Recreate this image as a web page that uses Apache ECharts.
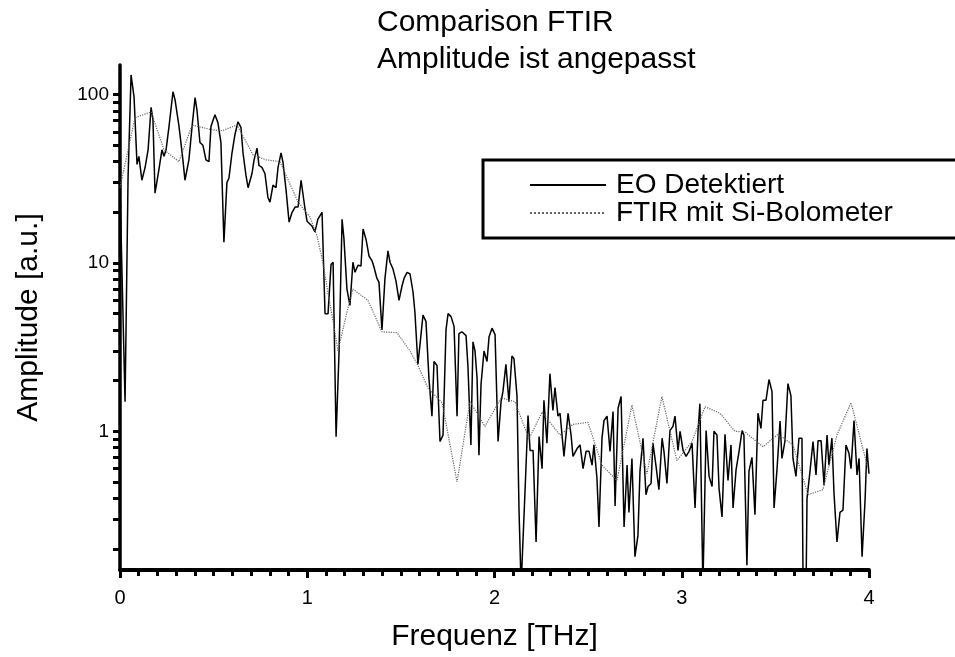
<!DOCTYPE html>
<html>
<head>
<meta charset="utf-8">
<script src="https://cdn.jsdelivr.net/npm/echarts@6/dist/echarts.min.js"></script>
<style>html,body{margin:0;padding:0;background:#fff;}#c{width:955px;height:657px;}</style>
</head>
<body>
<div id="c"></div>
<script>
const eoFreq = [
0,0.027,0.043,0.059,0.075,0.091,0.101,0.117,0.134,0.150,
0.166,0.176,0.187,0.208,0.224,0.235,0.246,0.262,0.283,0.294,
0.315,0.336,0.347,0.368,0.385,0.401,0.411,0.427,0.443,0.459,
0.475,0.486,0.507,0.523,0.539,0.555,0.571,0.582,0.598,0.614,
0.630,0.646,0.657,0.673,0.684,0.705,0.716,0.732,0.742,0.758,
0.774,0.790,0.801,0.817,0.833,0.844,0.860,0.870,0.887,0.903,
0.919,0.935,0.951,0.967,0.977,0.988,0.999,1.009,1.025,1.041,
1.057,1.079,1.095,1.111,1.127,1.138,1.154,1.170,1.186,1.196,
1.212,1.228,1.244,1.255,1.271,1.287,1.298,1.314,1.330,1.346,
1.356,1.372,1.383,1.399,1.415,1.431,1.442,1.458,1.474,1.490,
1.506,1.517,1.533,1.549,1.565,1.575,1.591,1.607,1.618,1.634,
1.650,1.666,1.677,1.693,1.709,1.725,1.741,1.752,1.768,1.784,
1.800,1.810,1.826,1.848,1.858,1.874,1.885,1.896,1.907,1.917,
1.928,1.944,1.960,1.971,1.987,2.003,2.019,2.035,2.045,2.061,
2.077,2.093,2.104,2.120,2.131,2.142,2.152,2.163,2.179,2.190,
2.206,2.222,2.238,2.254,2.264,2.280,2.296,2.312,2.323,2.339,
2.350,2.371,2.393,2.409,2.419,2.441,2.457,2.473,2.489,2.505,
2.521,2.531,2.547,2.558,2.574,2.585,2.601,2.617,2.633,2.644,
2.660,2.676,2.692,2.708,2.718,2.734,2.750,2.766,2.777,2.793,
2.809,2.820,2.836,2.846,2.862,2.878,2.895,2.905,2.921,2.937,
2.953,2.964,2.980,2.991,3.007,3.023,3.039,3.055,3.071,3.087,
3.097,3.113,3.130,3.146,3.162,3.172,3.188,3.199,3.215,3.231,
3.247,3.263,3.274,3.290,3.306,3.322,3.332,3.348,3.359,3.375,
3.391,3.407,3.423,3.434,3.450,3.466,3.482,3.493,3.509,3.525,
3.535,3.551,3.567,3.583,3.594,3.610,3.626,3.642,3.648,3.664,
3.669,3.685,3.701,3.717,3.728,3.744,3.760,3.776,3.786,3.802,
3.813,3.829,3.845,3.861,3.877,3.893,3.904,3.920,3.936,3.947,
3.963,3.979,3.989,4.000
];
const eoAmp = [
28,1.5,32,131,97,38.5,43,31,37,47,
84,71,26,36,47,43,47,65,104,93,
65,41,31,41,65,96,81,52,50,41,
40,65,76,68,52,13.3,30,32,45,58,
69,64,45,33,28,34,41,48,38,37,
34,24.5,23,29,28,37,45,40,27,17.5,
20,21.5,21.5,31,31.5,21,17.7,17.5,16.6,15.3,
18.2,20,5.0,5.0,9.8,10.1,0.93,3.0,18.2,13.9,
7.0,5.6,10.1,8.8,9.7,9.6,15.9,13.8,11,10.3,
9.5,8.1,7.7,4.0,8.1,11.8,10.1,9.2,7.8,6.0,
7.3,8.1,8.8,8.6,6.7,5.1,2.5,3.7,4.9,4.5,
2.06,1.23,2.6,2.46,0.87,0.95,4.0,5.0,4.8,4.2,
1.23,3.8,3.9,3.7,2.46,0.83,3.4,3.0,2.06,0.72,
1.9,3.0,2.6,3.65,4.1,3.75,0.87,1.5,1.72,2.5,
1.5,2.8,2.7,1.63,0.34,0.12,0.12,0.44,1.24,0.77,
0.77,0.22,0.93,0.6,1.53,0.85,2.2,1.33,1.82,1.23,
1.28,0.71,1.28,0.95,0.71,0.79,0.83,0.6,0.76,0.76,
0.63,0.83,0.53,0.27,0.91,1.16,1.23,0.76,1.31,0.36,
1.37,1.61,0.27,0.63,0.33,0.69,0.18,0.24,0.58,0.91,
0.42,0.47,0.49,0.85,0.63,0.45,0.91,0.76,0.49,1.01,
1.07,1.23,0.77,1.0,0.77,0.71,0.76,0.85,0.35,1.0,
1.46,0.12,1.01,0.54,0.47,1.0,0.95,0.46,0.31,0.96,
0.51,0.83,0.35,0.59,0.76,1.01,0.95,0.16,0.58,0.70,
0.32,1.28,1.04,1.53,1.53,2.03,1.72,0.35,0.6,1.15,
0.69,0.87,1.92,1.63,0.69,0.54,0.91,0.91,0.12,0.12,
0.4,0.58,0.87,0.55,0.88,0.88,0.48,0.95,0.63,0.91,
0.43,0.22,0.33,0.34,0.83,0.74,0.6,1.16,0.55,0.69,
0.18,0.39,0.79,0.56
];
const ftirFreq = [
0,0.080,0.166,0.235,0.315,0.385,0.486,0.545,0.625,0.710,
0.779,0.854,0.951,1.015,1.052,1.084,1.111,1.138,1.164,1.212,
1.244,1.324,1.399,1.479,1.549,1.591,1.645,1.720,1.800,1.869,
1.949,2.035,2.109,2.184,2.254,2.350,2.419,2.499,2.574,2.654,
2.734,2.814,2.894,2.974,3.055,3.124,3.204,3.284,3.338,3.434,
3.514,3.594,3.674,3.754,3.829,3.904,3.995
];
const ftirAmp = [
28,73,79,47,40,66,62,61,66,44,
41,40,23,18.7,14.5,10,6.6,4.5,3.0,5.1,
7.0,6.0,3.9,3.85,3.0,2.46,1.8,1.48,0.5,1.5,
1.07,1.58,1.5,0.9,1.3,0.95,1.1,1.13,0.63,0.51,
1.43,0.56,1.61,0.67,0.87,1.4,1.28,1.0,0.99,0.81,
0.96,0.83,0.42,0.45,0.95,1.48,0.6
];
const xTickLabels = [0, 1, 2, 3, 4];
const yLabelValues = [1, 10, 100];
const yTickValues = [0.2,0.3,0.4,0.5,0.6,0.7,0.8,0.9,1,2,3,4,5,6,7,8,9,10,20,30,40,50,60,70,80,90,100];
const titleLines = ['Comparison FTIR', 'Amplitude ist angepasst'];
const seriesNames = ['EO Detektiert', 'FTIR mit Si-Bolometer'];

const FONT = "'Liberation Sans', Arial, sans-serif";
const eoData = eoFreq.map((f, i) => [f, eoAmp[i]]);
const ftirData = ftirFreq.map((f, i) => [f, ftirAmp[i]]);

const chart = echarts.init(document.getElementById('c'), null, {renderer: 'canvas'});
chart.setOption({
  animation: false,
  backgroundColor: '#fff',
  title: {
    text: titleLines.join('\n'),
    left: 372, top: -1,
    textStyle: {fontFamily: FONT, fontSize: 30, fontWeight: 'normal', color: '#000', lineHeight: 37}
  },
  legend: {
    orient: 'vertical',
    left: 483, top: 160,
    padding: [11, 80, 11, 46],
    itemWidth: 76, itemHeight: 14, itemGap: 0,
    borderColor: '#000', borderWidth: 3,
    itemStyle: {opacity: 0},
    textStyle: {fontFamily: FONT, fontSize: 28, color: '#000', lineHeight: 28, padding: [0, 0, 0, 5]},
    data: seriesNames
  },
  grid: {left: 120, right: 86, top: 65, bottom: 85, containLabel: false},
  xAxis: {
    type: 'value', min: 0, max: 4, interval: 1,
    name: 'Frequenz [THz]', nameLocation: 'middle', nameGap: 52,
    nameTextStyle: {fontFamily: FONT, fontSize: 30, color: '#000'},
    axisLine: {show: true, onZero: false, lineStyle: {color: '#000', width: 4}},
    axisTick: {show: true, length: 8, lineStyle: {color: '#000', width: 3}},
    minorTick: {show: true, splitNumber: 10, length: 6, lineStyle: {color: '#000', width: 3}},
    axisLabel: {fontFamily: FONT, fontSize: 20, color: '#000', margin: 18,
      formatter: v => xTickLabels.indexOf(v) >= 0 ? String(v) : ''},
    splitLine: {show: false}, minorSplitLine: {show: false}
  },
  yAxis: {
    type: 'log', logBase: 10, min: 0.15, max: 150,
    name: 'Amplitude [a.u.]', nameLocation: 'middle', nameGap: 76, nameRotate: 90,
    nameTextStyle: {fontFamily: FONT, fontSize: 30, color: '#000'},
    axisLine: {show: true, onZero: false, lineStyle: {color: '#000', width: 3.5}},
    axisTick: {show: true, length: 7, customValues: yTickValues, lineStyle: {color: '#000', width: 3}},
    axisLabel: {fontFamily: FONT, fontSize: 19, color: '#000', margin: 11, customValues: yLabelValues,
      formatter: v => String(v)},
    splitLine: {show: false}
  },
  series: [
    {
      name: seriesNames[0], type: 'line', data: eoData,
      symbol: 'none', clip: true,
      lineStyle: {color: '#000', width: 1.5},
      itemStyle: {color: '#000'}
    },
    {
      name: seriesNames[1], type: 'line', data: ftirData,
      symbol: 'none', clip: true,
      lineStyle: {color: '#666', width: 1.2, type: 'dotted'},
      itemStyle: {color: '#666'}
    }
  ]
});
</script>
</body>
</html>
